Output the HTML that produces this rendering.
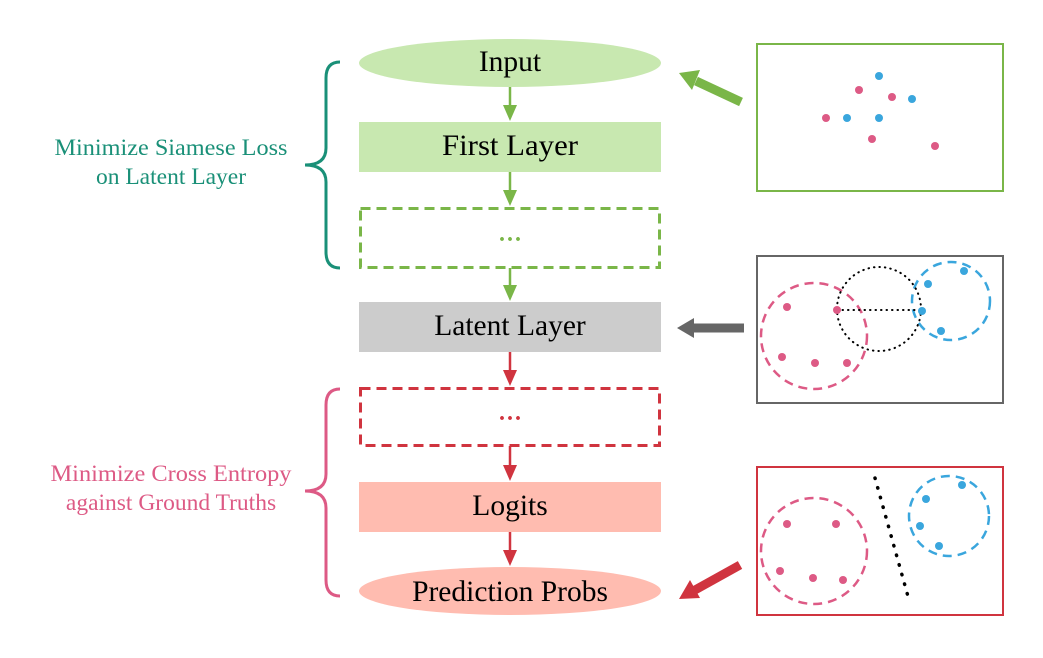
<!DOCTYPE html>
<html><head><meta charset="utf-8"><style>body{margin:0;background:#fff}svg{display:block}</style></head><body>
<svg width="1043" height="658" viewBox="0 0 1043 658" xmlns="http://www.w3.org/2000/svg" font-family="Liberation Serif, serif">
<!-- nodes -->
<rect x="359" y="39" width="302" height="48" rx="151" ry="24" fill="#c8e8b0"/>
<text x="510" y="71" font-size="29.5" text-anchor="middle">Input</text>
<rect x="359" y="122" width="302" height="50" fill="#c8e8b0"/>
<text x="510" y="155" font-size="29.5" text-anchor="middle" textLength="136" lengthAdjust="spacingAndGlyphs">First Layer</text>
<rect x="360.5" y="208.5" width="299" height="59" fill="none" stroke="#7ab648" stroke-width="3" stroke-dasharray="10,6"/>
<text x="510" y="247" font-size="24" text-anchor="middle" fill="#7ab648" font-weight="bold">···</text>
<rect x="359" y="302" width="302" height="50" fill="#cccccc"/>
<text x="510" y="335" font-size="29.5" text-anchor="middle">Latent Layer</text>
<rect x="360.5" y="388.5" width="299" height="57" fill="none" stroke="#d0343f" stroke-width="3" stroke-dasharray="10,6"/>
<text x="510" y="426" font-size="24" text-anchor="middle" fill="#d0343f" font-weight="bold">···</text>
<rect x="359" y="482" width="302" height="50" fill="#ffbcb0"/>
<text x="510" y="515" font-size="29.5" text-anchor="middle">Logits</text>
<rect x="359" y="567" width="302" height="48" rx="151" ry="24" fill="#ffbcb0"/>
<text x="510" y="601" font-size="29.5" text-anchor="middle">Prediction Probs</text>
<!-- vertical connectors -->
<g stroke-width="2.5">
<line x1="510" y1="87" x2="510" y2="106" stroke="#7ab648"/><path d="M503,105 L517,105 L510,121 z" fill="#7ab648"/>
<line x1="510" y1="172" x2="510" y2="191" stroke="#7ab648"/><path d="M503,190 L517,190 L510,206 z" fill="#7ab648"/>
<line x1="510" y1="268" x2="510" y2="286" stroke="#7ab648"/><path d="M503,285 L517,285 L510,301 z" fill="#7ab648"/>
<line x1="510" y1="352" x2="510" y2="371" stroke="#d0343f"/><path d="M503,370 L517,370 L510,386 z" fill="#d0343f"/>
<line x1="510" y1="446" x2="510" y2="466" stroke="#d0343f"/><path d="M503,465 L517,465 L510,481 z" fill="#d0343f"/>
<line x1="510" y1="532" x2="510" y2="551" stroke="#d0343f"/><path d="M503,550 L517,550 L510,566 z" fill="#d0343f"/>
</g>
<!-- braces -->
<path d="M340,62 Q326,62 326,78 L326,148 Q326,165 305,165 Q326,165 326,182 L326,252 Q326,268 340,268" fill="none" stroke="#1a9078" stroke-width="3"/>
<path d="M340,389 Q326,389 326,405 L326,474 Q326,491 305,491 Q326,491 326,508 L326,580 Q326,596 340,596" fill="none" stroke="#dd5a85" stroke-width="3"/>
<text x="171" y="155" font-size="23.5" text-anchor="middle" fill="#1a9078" textLength="233" lengthAdjust="spacingAndGlyphs">Minimize Siamese Loss</text>
<text x="171" y="184" font-size="23.5" text-anchor="middle" fill="#1a9078">on Latent Layer</text>
<text x="171" y="481" font-size="23.5" text-anchor="middle" fill="#dd5a85" textLength="241" lengthAdjust="spacingAndGlyphs">Minimize Cross Entropy</text>
<text x="171" y="510" font-size="23.5" text-anchor="middle" fill="#dd5a85">against Ground Truths</text>
<!-- side arrows -->
<line x1="741" y1="102" x2="696" y2="81" stroke="#7ab648" stroke-width="9"/>
<path d="M679,73 L700,70 L692,90 z" fill="#7ab648"/>
<line x1="744" y1="328" x2="693" y2="328" stroke="#666" stroke-width="9"/>
<path d="M677,328 L694,318 L694,338 z" fill="#666"/>
<line x1="740" y1="565" x2="695" y2="590" stroke="#d0343f" stroke-width="9"/>
<path d="M679,599 L690,580 L700,598 z" fill="#d0343f"/>
<!-- panel 1 -->
<rect x="757" y="44" width="246" height="147" fill="none" stroke="#7ab648" stroke-width="2"/>
<g fill="#3aa6dd"><circle cx="879" cy="76" r="4"/><circle cx="912" cy="99" r="4"/><circle cx="847" cy="118" r="4"/><circle cx="879" cy="118" r="4"/></g>
<g fill="#dd5a85"><circle cx="859" cy="90" r="4"/><circle cx="892" cy="97" r="4"/><circle cx="826" cy="118" r="4"/><circle cx="872" cy="139" r="4"/><circle cx="935" cy="146" r="4"/></g>
<!-- panel 2 -->
<rect x="757" y="256" width="246" height="147" fill="none" stroke="#666" stroke-width="2"/>
<circle cx="814" cy="336" r="53" fill="none" stroke="#dd5a85" stroke-width="2.5" stroke-dasharray="9,6"/>
<circle cx="951" cy="301" r="39" fill="none" stroke="#3aa6dd" stroke-width="2.5" stroke-dasharray="9,6"/>
<circle cx="879" cy="309" r="42" fill="none" stroke="#000" stroke-width="2" stroke-dasharray="0.5,5" stroke-linecap="round"/>
<line x1="837" y1="310" x2="922" y2="310" stroke="#000" stroke-width="2" stroke-dasharray="0.5,5" stroke-linecap="round"/>
<g fill="#dd5a85"><circle cx="787" cy="307" r="4"/><circle cx="837" cy="310" r="4"/><circle cx="782" cy="357" r="4"/><circle cx="815" cy="363" r="4"/><circle cx="847" cy="363" r="4"/></g>
<g fill="#3aa6dd"><circle cx="928" cy="284" r="4"/><circle cx="964" cy="271" r="4"/><circle cx="922" cy="311" r="4"/><circle cx="941" cy="331" r="4"/></g>
<!-- panel 3 -->
<rect x="757" y="467" width="246" height="148" fill="none" stroke="#d0343f" stroke-width="2"/>
<circle cx="814" cy="551" r="53" fill="none" stroke="#dd5a85" stroke-width="2.5" stroke-dasharray="9,6"/>
<circle cx="949" cy="516" r="40" fill="none" stroke="#3aa6dd" stroke-width="2.5" stroke-dasharray="9,6"/>
<line x1="875" y1="478" x2="909" y2="600" stroke="#000" stroke-width="3.5" stroke-dasharray="0.5,9.5" stroke-linecap="round"/>
<g fill="#dd5a85"><circle cx="787" cy="524" r="4"/><circle cx="836" cy="524" r="4"/><circle cx="780" cy="571" r="4"/><circle cx="813" cy="578" r="4"/><circle cx="843" cy="580" r="4"/></g>
<g fill="#3aa6dd"><circle cx="926" cy="499" r="4"/><circle cx="962" cy="485" r="4"/><circle cx="920" cy="526" r="4"/><circle cx="939" cy="546" r="4"/></g>
</svg>
</body></html>
